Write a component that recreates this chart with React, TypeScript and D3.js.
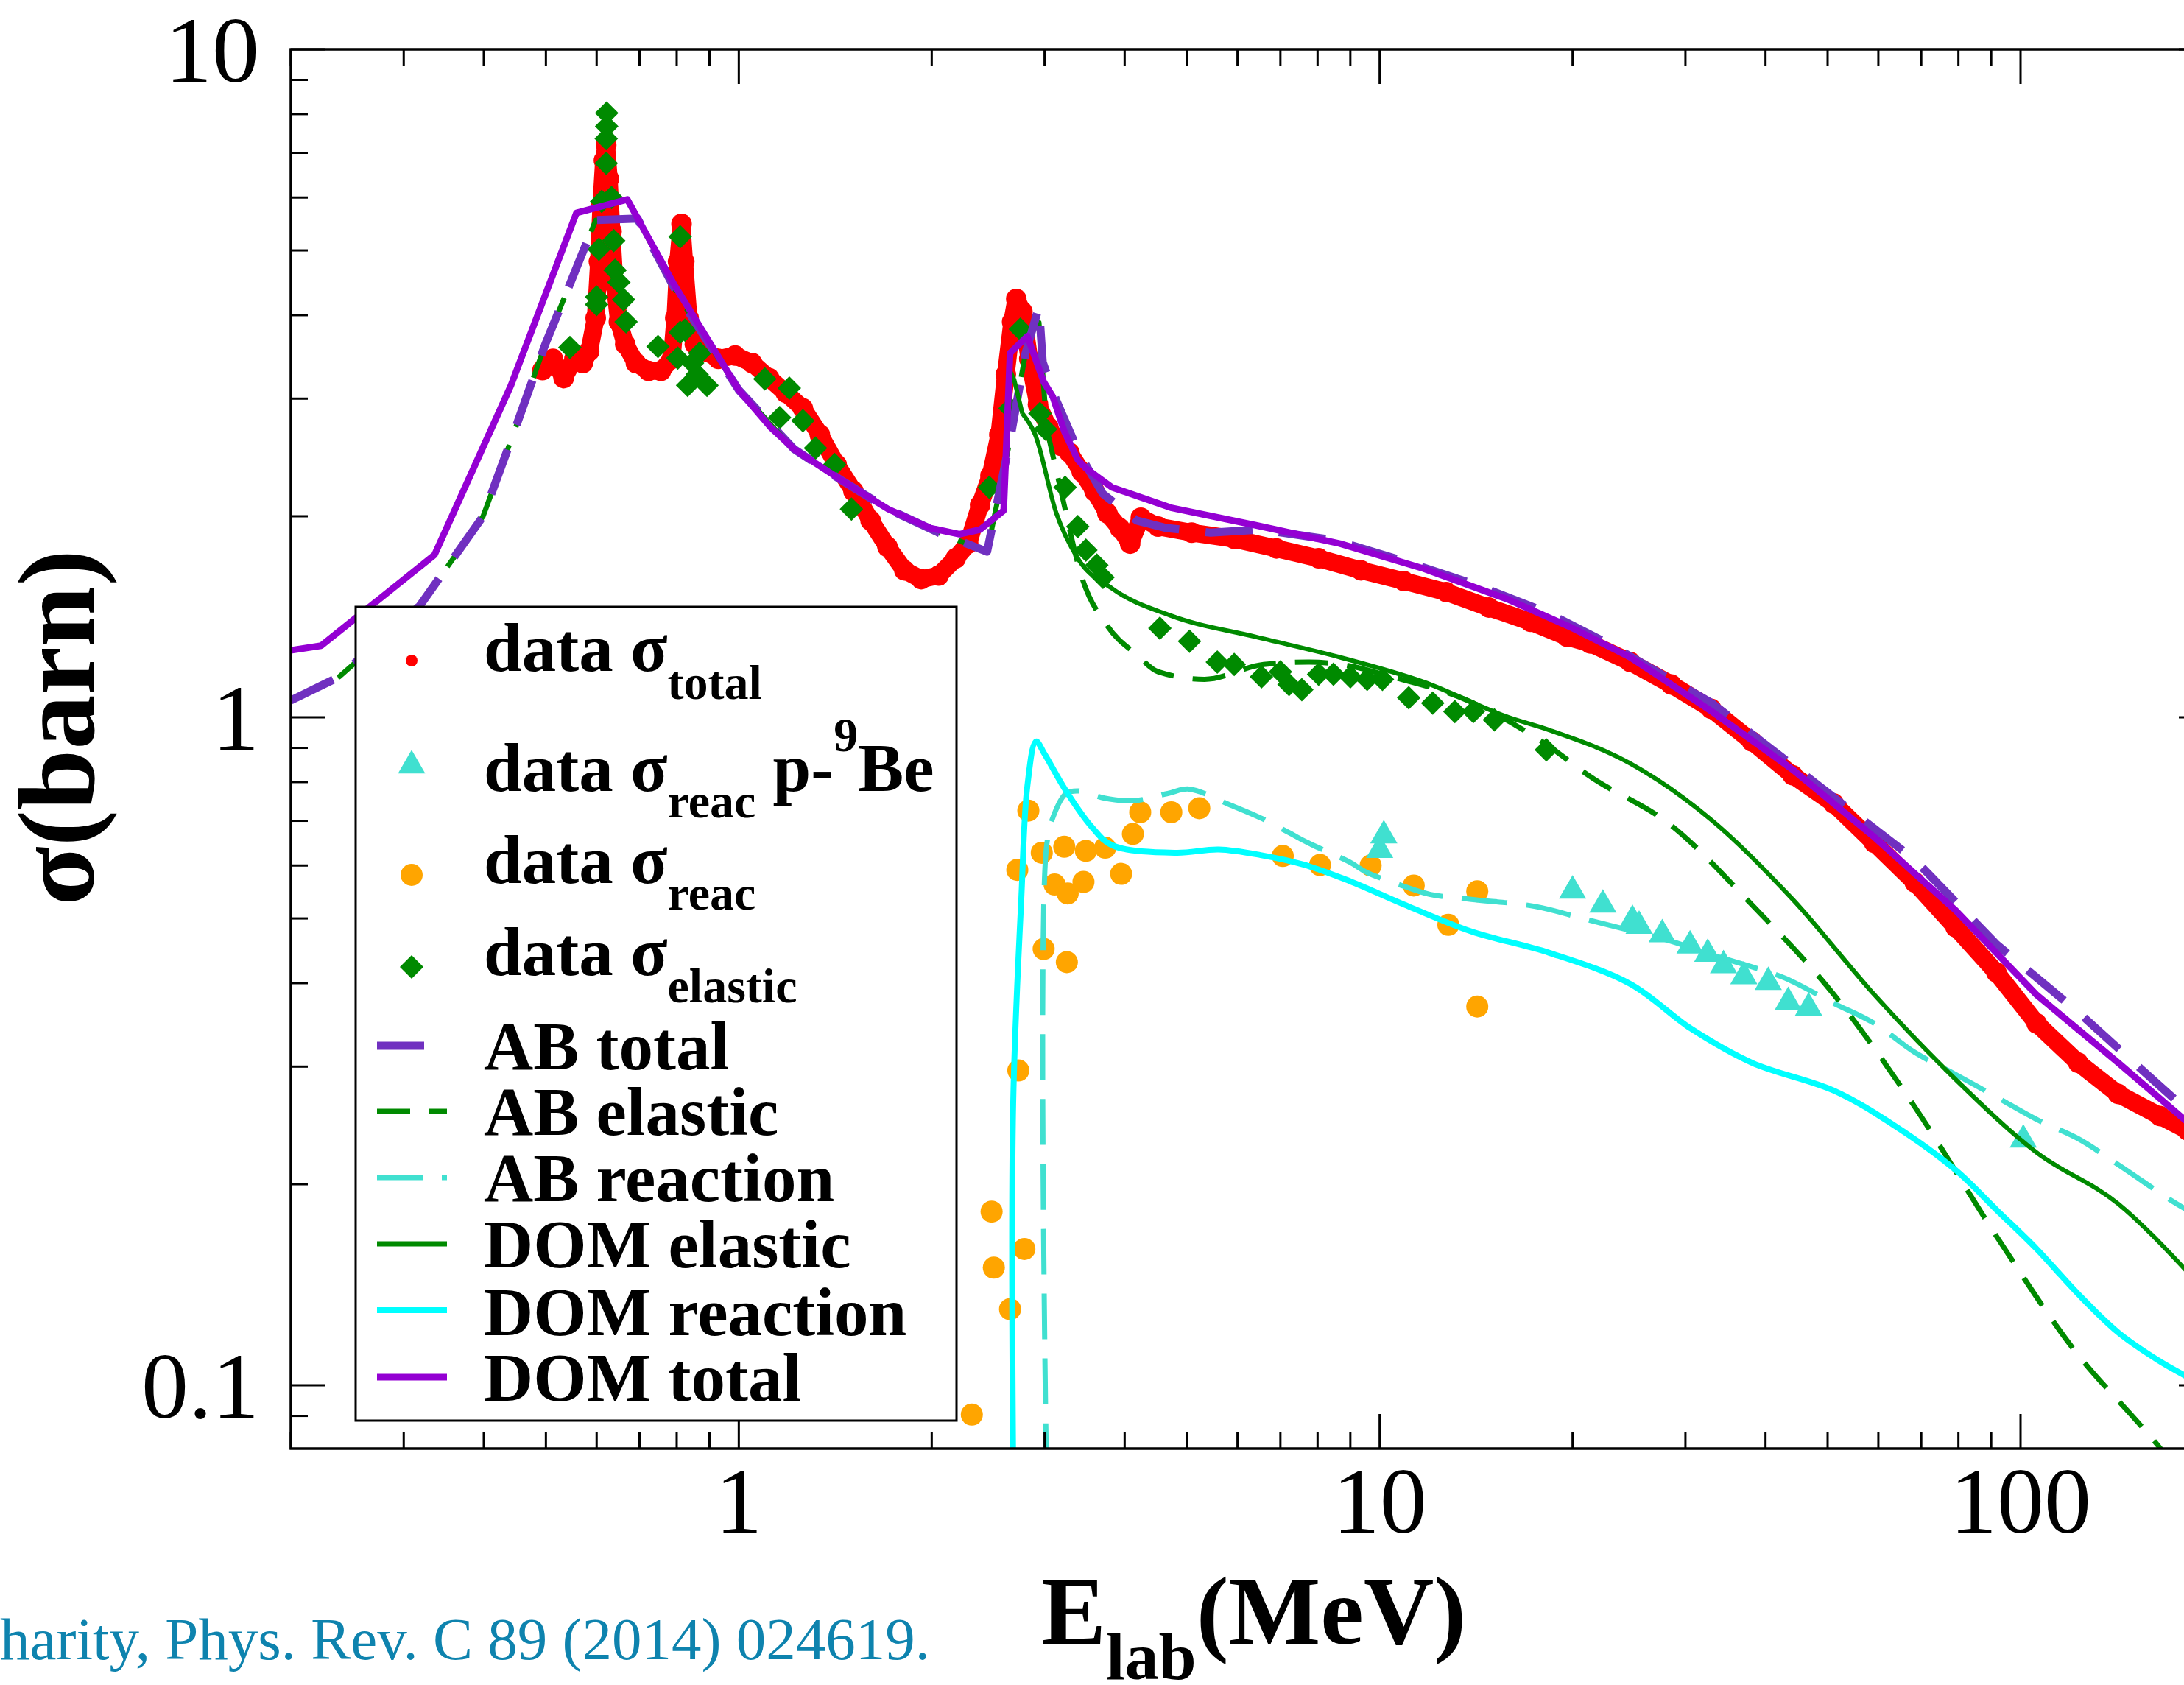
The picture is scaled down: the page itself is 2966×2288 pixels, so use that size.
import { useEffect } from "react"
import * as d3 from "d3"

type Pt = [number, number]

// energy (MeV), cross section (barn)
const dataTotal: Pt[] = [
  [0.494, 3.31], [0.513, 3.44], [0.533, 3.22], [0.554, 3.44], [0.571, 3.39], [0.584, 3.53],
  [0.598, 3.96], [0.605, 4.81], [0.61, 5.85], [0.616, 6.82], [0.621, 7.19], [0.627, 6.4],
  [0.633, 5.34], [0.64, 4.45], [0.65, 3.91], [0.665, 3.62], [0.691, 3.39], [0.723, 3.3],
  [0.756, 3.3], [0.786, 3.44], [0.796, 3.96], [0.804, 4.81], [0.814, 5.48], [0.822, 4.81],
  [0.835, 3.96], [0.854, 3.62], [0.887, 3.53], [0.929, 3.44], [0.987, 3.48], [1.049, 3.39],
  [1.115, 3.22], [1.184, 3.06], [1.259, 2.9], [1.338, 2.65], [1.421, 2.39], [1.51, 2.18],
  [1.606, 1.97], [1.706, 1.8], [1.813, 1.66], [1.926, 1.61], [2.05, 1.63], [2.18, 1.73],
  [2.28, 1.82], [2.38, 2.08], [2.47, 2.3], [2.55, 2.65], [2.61, 3.26], [2.67, 3.91],
  [2.71, 4.23], [2.77, 4.05], [2.84, 3.44], [2.93, 2.94], [3.04, 2.72], [3.18, 2.55],
  [3.28, 2.49], [3.43, 2.33], [3.59, 2.18], [3.76, 2.02], [3.93, 1.92], [4.08, 1.82],
  [4.24, 1.99], [4.51, 1.93], [5.09, 1.89], [5.93, 1.85], [6.9, 1.79], [8.03, 1.73],
  [9.35, 1.66], [10.9, 1.6], [12.7, 1.54], [14.8, 1.46], [17.2, 1.39], [19.6, 1.32],
  [21.3, 1.29], [24.6, 1.21], [28.5, 1.12], [32.9, 1.03], [38.1, 0.92], [44.1, 0.819],
  [51.1, 0.743], [59.1, 0.649], [68.4, 0.566], [79.2, 0.485], [91.7, 0.415], [106, 0.348],
  [123, 0.304], [142, 0.273], [165, 0.253], [182, 0.241],
]

const dataReacBe: Pt[] = [
  [10.0, 0.635], [10.15, 0.668], [20.0, 0.552], [22.3, 0.526], [24.8, 0.499], [25.4, 0.489],
  [27.6, 0.475], [30.5, 0.457], [32.5, 0.444], [34.4, 0.427], [37.0, 0.411], [40.4, 0.403],
  [43.4, 0.376], [46.7, 0.369], [101, 0.234],
]

const dataReac: Pt[] = [
  [2.31, 0.0904], [2.48, 0.182], [2.5, 0.15], [2.65, 0.13], [2.79, 0.16], [2.73, 0.296],
  [2.72, 0.591], [2.83, 0.725], [2.97, 0.627], [2.99, 0.45], [3.11, 0.562], [3.22, 0.64],
  [3.26, 0.545], [3.25, 0.43], [3.45, 0.567], [3.48, 0.631], [3.73, 0.638], [3.95, 0.583],
  [4.12, 0.669], [4.23, 0.721], [4.73, 0.721], [5.23, 0.731], [7.06, 0.62], [8.07, 0.601],
  [9.68, 0.6], [11.3, 0.56], [12.8, 0.489], [14.2, 0.549], [14.2, 0.369],
]

const dataElastic: Pt[] = [
  [0.545, 3.58], [0.6, 4.26], [0.6, 4.15], [0.605, 5.02], [0.611, 5.92], [0.621, 6.75],
  [0.621, 7.35], [0.622, 7.67], [0.622, 8.03], [0.633, 6.0], [0.638, 5.17], [0.641, 4.67],
  [0.65, 4.48], [0.661, 4.22], [0.667, 3.91], [0.748, 3.59], [0.803, 3.45], [0.81, 3.77],
  [0.81, 5.24], [0.824, 3.8], [0.832, 3.14], [0.847, 3.39], [0.861, 3.26], [0.869, 3.51],
  [0.892, 3.14], [1.098, 3.21], [1.158, 2.81], [1.199, 3.11], [1.259, 2.78], [1.317, 2.53],
  [1.411, 2.39], [1.499, 2.05], [2.46, 2.21], [2.65, 2.9], [2.75, 3.81], [2.95, 2.85],
  [3.01, 2.7], [3.23, 2.21], [3.38, 1.93], [3.48, 1.78], [3.62, 1.69], [3.7, 1.62],
  [4.54, 1.36], [5.05, 1.3], [5.58, 1.21], [5.93, 1.2], [6.54, 1.15], [7.0, 1.17],
  [7.22, 1.12], [7.56, 1.1], [8.03, 1.16], [8.47, 1.16], [9.0, 1.15], [9.56, 1.14],
  [10.1, 1.14], [11.1, 1.07], [12.1, 1.05], [13.1, 1.02], [14.0, 1.02], [15.1, 0.991],
  [18.2, 0.894],
]

const abTotal: Pt[] = [
  [0.2, 1.06], [0.238, 1.15], [0.318, 1.47], [0.399, 2.0], [0.447, 2.69], [0.499, 3.62],
  [0.545, 4.45], [0.598, 5.55], [0.695, 5.58], [0.81, 4.23], [1.0, 3.09], [1.22, 2.52],
  [1.44, 2.27], [1.71, 2.05], [2.05, 1.89], [2.44, 1.77], [2.65, 2.6], [2.8, 3.5],
  [2.94, 4.12], [2.98, 3.4], [3.13, 2.98], [3.4, 2.48], [3.7, 2.16], [4.18, 1.97],
  [4.65, 1.92], [5.45, 1.89], [6.54, 1.91], [8.54, 1.84], [11.0, 1.71], [14.1, 1.58],
  [18.1, 1.44], [22.7, 1.29], [33, 1.05], [51.2, 0.758], [68.4, 0.612], [91.8, 0.457],
  [123, 0.362], [164, 0.282], [182, 0.258],
]

const abElastic: Pt[] = [
  [0.2, 1.06], [0.238, 1.15], [0.318, 1.47], [0.399, 2.0], [0.447, 2.69], [0.499, 3.62],
  [0.545, 4.45], [0.598, 5.55], [0.695, 5.58], [0.81, 4.23], [1.0, 3.09], [1.22, 2.52],
  [1.44, 2.27], [1.71, 2.05], [2.05, 1.89], [2.44, 1.77], [2.65, 2.6], [2.8, 3.5],
  [2.88, 3.86], [2.94, 3.9], [3.0, 3.0], [3.02, 2.72], [3.18, 2.19], [3.43, 1.62],
  [3.76, 1.37], [4.18, 1.24], [4.51, 1.17], [5.33, 1.14], [6.59, 1.2], [7.73, 1.21],
  [9.14, 1.19], [10.1, 1.16], [13.7, 1.06], [18.4, 0.904], [21.2, 0.818], [28.5, 0.689],
  [38.1, 0.524], [51.2, 0.384], [68.4, 0.261], [91.8, 0.167], [123, 0.111], [153, 0.0877],
  [164, 0.0812], [180, 0.072],
]

const abReaction: Pt[] = [
  [3.02, 0.075], [3.02, 0.638], [3.1, 0.713], [3.24, 0.769], [3.39, 0.776], [3.72, 0.757],
  [4.13, 0.75], [4.67, 0.769], [5.04, 0.781], [5.87, 0.738], [6.52, 0.707], [7.24, 0.671],
  [7.7, 0.65], [8.98, 0.607], [9.55, 0.586], [11.0, 0.557], [12.0, 0.543], [13.9, 0.534],
  [17.5, 0.521], [20.9, 0.499], [28.5, 0.462], [33, 0.441], [38.1, 0.423], [42.9, 0.407],
  [51.2, 0.373], [59.2, 0.348], [68.4, 0.315], [79.2, 0.292], [91.8, 0.27], [106, 0.25],
  [123, 0.234], [142, 0.214], [172, 0.189], [182, 0.183],
]

const domElastic: Pt[] = [
  [0.2, 1.26], [0.223, 1.28], [0.335, 1.75], [0.441, 3.14], [0.558, 5.69], [0.67, 5.96],
  [0.792, 4.45], [1.0, 3.09], [1.22, 2.52], [1.44, 2.27], [1.71, 2.05], [1.99, 1.92],
  [2.21, 1.88], [2.38, 1.91], [2.59, 2.04], [2.65, 3.3], [2.69, 3.2], [2.77, 2.85],
  [2.9, 2.65], [3.13, 2.02], [3.38, 1.73], [3.82, 1.56], [4.72, 1.42], [6.4, 1.32],
  [8.67, 1.23], [11.7, 1.13], [15.9, 1.0], [18.4, 0.957], [24.6, 0.853], [33, 0.701],
  [44.1, 0.534], [59.2, 0.384], [79.2, 0.287], [106, 0.223], [142, 0.187], [182, 0.148],
]

const domReaction: Pt[] = [
  [2.68, 0.075], [2.68, 0.264], [2.76, 0.538], [2.82, 0.789], [2.91, 0.92], [3.0, 0.881],
  [3.24, 0.776], [3.56, 0.684], [3.83, 0.643], [4.81, 0.627], [5.61, 0.634], [6.52, 0.622],
  [7.6, 0.602], [8.84, 0.572], [11.1, 0.521], [13.9, 0.478], [18.4, 0.444], [24.6, 0.399],
  [30.6, 0.342], [38.1, 0.304], [51.2, 0.276], [63.5, 0.245], [79.2, 0.21], [91.8, 0.183],
  [106, 0.16], [123, 0.137], [142, 0.12], [164, 0.109], [182, 0.103],
]

const domTotal: Pt[] = [
  [0.2, 1.26], [0.223, 1.28], [0.335, 1.75], [0.441, 3.14], [0.558, 5.69], [0.67, 5.96],
  [0.792, 4.45], [1.0, 3.09], [1.12, 2.72], [1.22, 2.52], [1.44, 2.27], [1.71, 2.05],
  [1.99, 1.92], [2.21, 1.88], [2.38, 1.91], [2.59, 2.04], [2.65, 3.51], [2.82, 3.72],
  [2.99, 3.18], [3.09, 3.02], [3.22, 2.68], [3.38, 2.43], [3.48, 2.36], [3.82, 2.21],
  [4.72, 2.06], [6.39, 1.94], [8.67, 1.82], [11.7, 1.67], [15.9, 1.5], [20, 1.36],
  [24.6, 1.23], [33, 1.02], [44.1, 0.835], [59.2, 0.661], [79.2, 0.514], [106, 0.384],
  [142, 0.304], [182, 0.248],
]

const xTickValues = [1, 10, 100]
const xTickLabels = ["1", "10", "100"]
const yTickValues = [0.1, 1, 10]
const yTickLabels = ["0.1", "1", "10"]

const W = 2966
const H = 2288
const PLOT = { left: 395, right: 3006, top: 67, bottom: 1967 }
const FONT = "'Liberation Serif', 'Times New Roman', serif"

const RED = "#ff0000"
const GREEN = "#008a00"
const ORANGE = "#ffa500"
const TURQ = "#40e0d0"
const CYAN = "#00ffff"
const VIOLET = "#9400d3"
const AB_PURPLE = "#7030c0"

const diamond = (s: number) => `M0,${-s}L${s},0L0,${s}L${-s},0Z`
const triangle = (w: number, h: number) => `M0,${-h * 0.62}L${w / 2},${h * 0.38}L${-w / 2},${h * 0.38}Z`

export default function App() {
  useEffect(() => {
    document.body.style.margin = "0"
  }, [])

  const x = d3.scaleLog().domain([0.2, 200]).range([PLOT.left, PLOT.right])
  const y = d3.scaleLog().domain([0.0804, 10]).range([PLOT.bottom, PLOT.top])
  const line = d3.line<Pt>().x(d => x(d[0])).y(d => y(d[1]))
  const smooth = d3.line<Pt>().x(d => x(d[0])).y(d => y(d[1])).curve(d3.curveMonotoneX)
  const catmull = d3.line<Pt>().x(d => x(d[0])).y(d => y(d[1])).curve(d3.curveCatmullRom.alpha(0.5))

  // piecewise below the reaction threshold, smooth above it
  const split = (data: Pt[], e: number) =>
    (line(data.filter(d => d[0] <= e)) ?? "") + (smooth(data.filter(d => d[0] >= e)) ?? "")

  const isMajor = (v: number) => Math.abs(Math.log10(v) - Math.round(Math.log10(v))) < 1e-9
  const xTicks = x.ticks()
  const yTicks = y.ticks()

  const curves = [
    { key: "abel", d: split(abElastic, 3.02), color: GREEN, width: 7, dash: "45 26" },
    { key: "abtot", d: line(abTotal), color: AB_PURPLE, width: 11, dash: "64 36" },
    { key: "abreac", d: catmull(abReaction), color: TURQ, width: 7, dash: "62 26" },
    { key: "domel", d: split(domElastic, 2.77), color: GREEN, width: 6, dash: undefined },
    { key: "domreac", d: catmull(domReaction), color: CYAN, width: 8, dash: undefined },
    { key: "domtot", d: line(domTotal), color: VIOLET, width: 9, dash: undefined },
  ]

  // legend layout
  const LX = 483, LY = 824, LW = 816, LH = 1105
  const symX = 559, lineX1 = 512, lineX2 = 607, textX = 657
  const legendFont = 93, subFont = 66

  const lineRows = [
    { label: "AB total", color: AB_PURPLE, width: 11, dash: "64 36", ly: 1420, by: 1452 },
    { label: "AB elastic", color: GREEN, width: 7, dash: "45 26", ly: 1509, by: 1541 },
    { label: "AB reaction", color: TURQ, width: 7, dash: "62 26", ly: 1599, by: 1631 },
    { label: "DOM elastic", color: GREEN, width: 7, dash: undefined, ly: 1689, by: 1721 },
    { label: "DOM reaction", color: CYAN, width: 8, dash: undefined, ly: 1779, by: 1813 },
    { label: "DOM total", color: VIOLET, width: 9, dash: undefined, ly: 1870, by: 1902 },
  ]

  return (
    <svg
      width={W}
      height={H}
      viewBox={`0 0 ${W} ${H}`}
      style={{ position: "absolute", left: 0, top: 0, display: "block", background: "#fff" }}
      fontFamily={FONT}
    >
      <defs>
        <clipPath id="plotClip">
          <rect x={PLOT.left} y={PLOT.top} width={PLOT.right - PLOT.left} height={PLOT.bottom - PLOT.top} />
        </clipPath>
      </defs>
      <rect width={W} height={H} fill="#fff" />

      <g clipPath="url(#plotClip)">
        {/* data sigma total: dense red dots */}
        <path d={line(dataTotal) ?? ""} fill="none" stroke={RED} strokeWidth={24} strokeLinejoin="round" strokeLinecap="round" />
        {dataTotal.map((d, i) => (
          <circle key={"t" + i} cx={x(d[0])} cy={y(d[1])} r={14} fill={RED} />
        ))}
        {dataElastic.map((d, i) => (
          <path key={"e" + i} d={diamond(16)} transform={`translate(${x(d[0])},${y(d[1])})`} fill={GREEN} />
        ))}
        {dataReac.map((d, i) => (
          <circle key={"r" + i} cx={x(d[0])} cy={y(d[1])} r={15} fill={ORANGE} />
        ))}
        {dataReacBe.map((d, i) => (
          <path key={"b" + i} d={triangle(37, 32)} transform={`translate(${x(d[0])},${y(d[1])})`} fill={TURQ} />
        ))}

        {curves.map(c => (
          <path
            key={c.key}
            d={c.d ?? ""}
            fill="none"
            stroke={c.color}
            strokeWidth={c.width}
            strokeDasharray={c.dash}
            strokeLinejoin="round"
          />
        ))}
      </g>

      {/* frame */}
      <rect
        x={PLOT.left}
        y={PLOT.top}
        width={PLOT.right - PLOT.left}
        height={PLOT.bottom - PLOT.top}
        fill="none"
        stroke="#000"
        strokeWidth={3.5}
      />

      {/* x ticks, bottom and top, pointing inward */}
      {xTicks.map((v, i) => {
        const len = isMajor(v) ? 47 : 23
        const px = x(v)
        return (
          <g key={"xt" + i} stroke="#000" strokeWidth={3}>
            <line x1={px} x2={px} y1={PLOT.bottom} y2={PLOT.bottom - len} />
            <line x1={px} x2={px} y1={PLOT.top} y2={PLOT.top + len} />
          </g>
        )
      })}
      {/* y ticks, left and right */}
      {yTicks.map((v, i) => {
        const len = isMajor(v) ? 47 : 23
        const py = y(v)
        return (
          <g key={"yt" + i} stroke="#000" strokeWidth={3}>
            <line x1={PLOT.left} x2={PLOT.left + len} y1={py} y2={py} />
            <line x1={PLOT.right} x2={PLOT.right - len} y1={py} y2={py} />
          </g>
        )
      })}

      {xTickValues.map((v, i) => (
        <text key={"xl" + i} x={x(v)} y={2081} fontSize={128} textAnchor="middle" fill="#000">
          {xTickLabels[i]}
        </text>
      ))}
      {yTickValues.map((v, i) => (
        <text key={"yl" + i} x={352} y={y(v) + 44} fontSize={128} textAnchor="end" fill="#000">
          {yTickLabels[i]}
        </text>
      ))}

      {/* axis titles */}
      <text x={1414} y={2232} fontSize={132} fontWeight="bold" fill="#000">
        E
        <tspan fontSize={92} dy={48}>lab</tspan>
        <tspan fontSize={132} dy={-48}>(MeV)</tspan>
      </text>
      <text
        transform="translate(127,988) rotate(-90)"
        fontSize={148}
        fontWeight="bold"
        textAnchor="middle"
        fill="#000"
      >
        σ(barn)
      </text>

      {/* legend */}
      <rect x={LX} y={LY} width={LW} height={LH} fill="#fff" stroke="#000" strokeWidth={3} />
      <g fontWeight="bold" fill="#000">
        <circle cx={symX} cy={897} r={8} fill={RED} />
        <text x={textX} y={911} fontSize={legendFont}>
          data σ<tspan fontSize={subFont} dy={38}>total</tspan>
        </text>

        <path d={triangle(37, 32)} transform={`translate(${symX},1038)`} fill={TURQ} />
        <text x={textX} y={1074} fontSize={legendFont}>
          data σ<tspan fontSize={subFont} dy={36}>reac</tspan>
          <tspan fontSize={legendFont} dy={-36}> p-</tspan>
          <tspan fontSize={subFont} dy={-54}>9</tspan>
          <tspan fontSize={legendFont} dy={54}>Be</tspan>
        </text>

        <circle cx={symX} cy={1188} r={15} fill={ORANGE} />
        <text x={textX} y={1199} fontSize={legendFont}>
          data σ<tspan fontSize={subFont} dy={36}>reac</tspan>
        </text>

        <path d={diamond(16)} transform={`translate(${symX},1313)`} fill={GREEN} />
        <text x={textX} y={1324} fontSize={legendFont}>
          data σ<tspan fontSize={subFont} dy={37}>elastic</tspan>
        </text>

        {lineRows.map(r => (
          <g key={r.label}>
            <line
              x1={lineX1}
              x2={lineX2}
              y1={r.ly}
              y2={r.ly}
              stroke={r.color}
              strokeWidth={r.width}
              strokeDasharray={r.dash}
            />
            <text x={textX} y={r.by} fontSize={legendFont}>
              {r.label}
            </text>
          </g>
        ))}
      </g>

      {/* citation */}
      <text x={0} y={2253} fontSize={81} fill="#0e83ae">
        harity, Phys. Rev. C 89 (2014) 024619.
      </text>
    </svg>
  )
}
